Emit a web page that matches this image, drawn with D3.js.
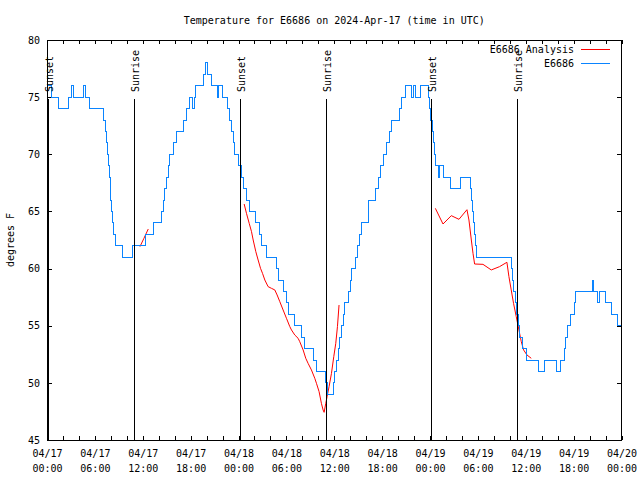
<!DOCTYPE html>
<html><head><meta charset="utf-8">
<script src="https://cdn.jsdelivr.net/npm/d3@7"></script>
<style>
body{margin:0;background:#fff;}
svg{display:block;font-family:"DejaVu Sans Mono","Liberation Mono",monospace;font-size:10px;}
</style></head>
<body><svg id="c" width="640" height="480"></svg>
<script>
// ---- data (hours after 2024-04-17 00:00 UTC) ----
const titleText = "Temperature for E6686 on 2024-Apr-17 (time in UTC)";
const yLabel = "degrees F";
const yTicks = [45, 50, 55, 60, 65, 70, 75, 80];
const xMajorHours = [0, 6, 12, 18, 24, 30, 36, 42, 48, 54, 60, 66, 72];
const seriesNames = ["E6686 Analysis", "E6686"];

// observed E6686 (change points, step-after)
const obsHours = [0,0.59,1.38,2.75,3.09,3.34,4.55,4.80,5.30,7.07,7.33,7.51,7.64,7.74,7.85,7.93,8.01,8.11,8.24,8.39,8.58,9.52,10.77,12.33,13.34,
 14.36,14.56,14.78,14.99,15.19,15.40,15.81,16.24,17.07,17.49,17.91,18.25,18.47,18.66,19.57,19.85,20.12,20.62,21.35,21.54,22.00,22.58,22.92,23.13,23.33,23.54,23.95,
 24.38,24.58,25.01,25.42,26.17,26.67,26.88,27.51,28.76,28.96,29.59,30.02,30.22,31.05,31.89,32.31,33.35,33.77,34.94,35.12,35.85,36.06,36.28,36.48,36.69,36.90,37.10,37.32,
 37.73,38.00,38.19,38.69,38.94,39.19,39.41,40.23,40.32,41.20,41.51,41.79,42.11,42.54,42.89,43.16,44.20,44.42,44.92,45.67,45.99,46.17,46.83,47.75,47.96,48.08,48.27,48.42,
 48.56,48.75,49.12,49.25,49.71,50.55,51.88,53.03,53.22,53.34,53.47,53.59,53.72,53.88,58.26,58.39,58.48,58.67,58.85,59.07,59.27,59.60,60.14,61.61,62.36,63.86,64.30,
 64.83,65.03,65.24,65.65,66.08,66.28,68.37,68.50,69.00,69.25,70.00,70.75,71.56,72.0];
const obsTemps = [76,75,74,75,76,75,76,75,74,73,72,71,70,69,68,67,66,65,64,63,62,61,62,63,64,
 65,66,67,68,69,70,71,72,73,74,75,74,75,76,77,78,77,76,75,76,75,74,73,72,71,70,69,
 68,67,66,65,64,63,62,61,60,59,58,57,56,55,54,53,52,51,50,49,50,51,52,53,54,55,56,57,
 58,59,60,61,62,63,64,65,66,67,68,69,70,71,72,73,74,75,76,75,76,75,76,75,74,73,72,71,
 70,69,68,69,68,67,68,67,66,65,64,63,62,61,60,59,58,57,56,55,54,53,52,51,52,51,52,
 53,54,55,56,57,58,59,58,57,58,57,56,55,55];

// analysis (null = gap)
const anaHours = [11.65,12.15,12.69, null,
 24.71,25.00,25.34,25.63,25.84,26.17,26.46,26.76,27.01,27.30,27.71,28.13,28.55,28.84,29.18,29.59,30.01,30.43,30.64,31.05,31.47,31.68,32.10,32.43,32.72,33.14,33.56,33.77,34.10,34.39,34.60,34.73,34.94,35.10,35.35,35.65,35.94,36.19,36.40,36.60, null,
 48.67,49.63,50.67,51.63,52.63,52.88,53.18,53.39,53.59,54.64,55.68,56.72,57.64,57.89,58.18,58.47,58.81,59.02,59.23,59.44,59.73,60.15,60.69];
const anaTemps = [61.92,62.65,63.46, null,
 65.65,64.83,63.96,63.23,62.5,61.48,60.75,60.02,59.58,59.0,58.42,58.27,58.13,57.69,57.1,56.38,55.65,54.92,54.63,54.19,53.9,53.6,52.88,52.15,51.71,51.13,50.4,49.96,49.23,48.21,47.63,47.42,48.21,48.79,49.67,50.83,52.29,53.46,54.92,56.81, null,
 65.27,63.9,64.63,64.31,65.15,64.25,62.5,61.33,60.4,60.37,59.88,60.17,60.55,59.3,58.13,56.96,55.79,55.06,54.33,53.6,52.88,52.44,52.15];

const sunNames = ["Sunset","Sunrise","Sunset","Sunrise","Sunset","Sunrise"];
const sunHours = [0.15, 10.93, 24.2, 34.97, 48.12, 58.9];

// ---- chart ----
const t0 = Date.UTC(2024,3,17,0,0);
const toDate = h => new Date(t0 + h*3600000);
const L = 47, R = 621.5, T = 40, B = 440;
const svg = d3.select("#c");
const x = d3.scaleUtc().domain([toDate(0), toDate(72)]).range([L, R]);
const y = d3.scaleLinear().domain([45, 80]).range([B, T]);
const blue = "#0a84ff", red = "#ff0000";

// title & y label
svg.append("text").attr("x", (L+R)/2).attr("y", 20).attr("dy","0.35em").attr("text-anchor","middle").text(titleText);
svg.append("text").attr("transform","translate(10,240) rotate(-90)").attr("text-anchor","middle").attr("dy","0.35em").text(yLabel);

// y axes
const yl = svg.append("g").attr("transform",`translate(${L},0)`).attr("shape-rendering","crispEdges")
  .call(d3.axisLeft(y).tickValues(yTicks).tickSize(-5).tickPadding(7));
const yr = svg.append("g").attr("transform",`translate(${R},0)`).attr("shape-rendering","crispEdges")
  .call(d3.axisRight(y).tickValues(yTicks).tickSize(-5).tickFormat(""));
// x axes: minor every 2h, major every 6h
const minorDates = d3.range(0, 73, 2).map(toDate);
const xb = svg.append("g").attr("transform",`translate(0,${B})`).attr("shape-rendering","crispEdges")
  .call(d3.axisBottom(x).tickValues(minorDates).tickSize(-4).tickFormat(""));
const xt = svg.append("g").attr("transform",`translate(0,${T})`).attr("shape-rendering","crispEdges")
  .call(d3.axisTop(x).tickValues(minorDates).tickSize(-4).tickFormat(""));
const xm = svg.append("g").attr("transform",`translate(0,${B})`)
  .call(d3.axisBottom(x).tickValues(xMajorHours.map(toDate)).tickSize(0).tickFormat(""));
const fmtD = d3.utcFormat("%m/%d"), fmtT = d3.utcFormat("%H:%M");
xm.selectAll(".tick").each(function(d){
  const g = d3.select(this);
  g.append("text").attr("y",16.5).attr("fill","#000").attr("text-anchor","middle").text(fmtD(d));
  g.append("text").attr("y",32).attr("fill","#000").attr("text-anchor","middle").text(fmtT(d));
});
[yl,yr,xb,xt,xm].forEach(g=>{ g.select(".domain").remove(); g.attr("font-family",null).attr("font-size",null); g.selectAll("text").attr("fill","#000"); });

// data lines
const clip = svg.append("clipPath").attr("id","clp").append("rect").attr("x",L).attr("y",T).attr("width",R-L).attr("height",B-T);
const anaData = anaHours.map((h,i)=>({h, v: anaTemps[i]}));
svg.append("path").datum(anaData).attr("clip-path","url(#clp)")
  .attr("fill","none").attr("stroke",red).attr("stroke-width",1)
  .attr("d", d3.line().defined(d=>d.h!==null && d.v!==null).x(d=>x(toDate(d.h))).y(d=>y(d.v)));
const obsData = obsHours.map((h,i)=>({h, v: obsTemps[i]}));
svg.append("path").datum(obsData).attr("clip-path","url(#clp)")
  .attr("fill","none").attr("stroke",blue).attr("stroke-width",1).attr("shape-rendering","crispEdges")
  .attr("d", d3.line().curve(d3.curveStepAfter).x(d=>x(toDate(d.h))).y(d=>y(d.v)));

// sunrise / sunset
sunHours.forEach((h,i)=>{
  const sx = Math.round(x(toDate(h))) + 0.5;
  svg.append("line").attr("x1",sx).attr("x2",sx).attr("y1",99).attr("y2",B).attr("stroke","#000").attr("stroke-width",1);
  svg.append("text").attr("transform",`translate(${sx+1},92) rotate(-90)`).attr("text-anchor","start").attr("dy","0.35em").text(sunNames[i]);
});

// frame
svg.append("rect").attr("x",L+0.5).attr("y",T+0.5).attr("width",R-L-1).attr("height",B-T).attr("fill","none").attr("stroke","#000").attr("shape-rendering","crispEdges");

// legend
const legColors = [red, blue];
seriesNames.forEach((n,i)=>{
  const ly = 49 + i*14;
  svg.append("text").attr("x",574).attr("y",ly).attr("dy","0.35em").attr("text-anchor","end").text(n);
  svg.append("rect").attr("x",581).attr("y",ly).attr("width",29).attr("height",1.2).attr("fill",legColors[i]).attr("shape-rendering","crispEdges");
});
</script></body></html>
